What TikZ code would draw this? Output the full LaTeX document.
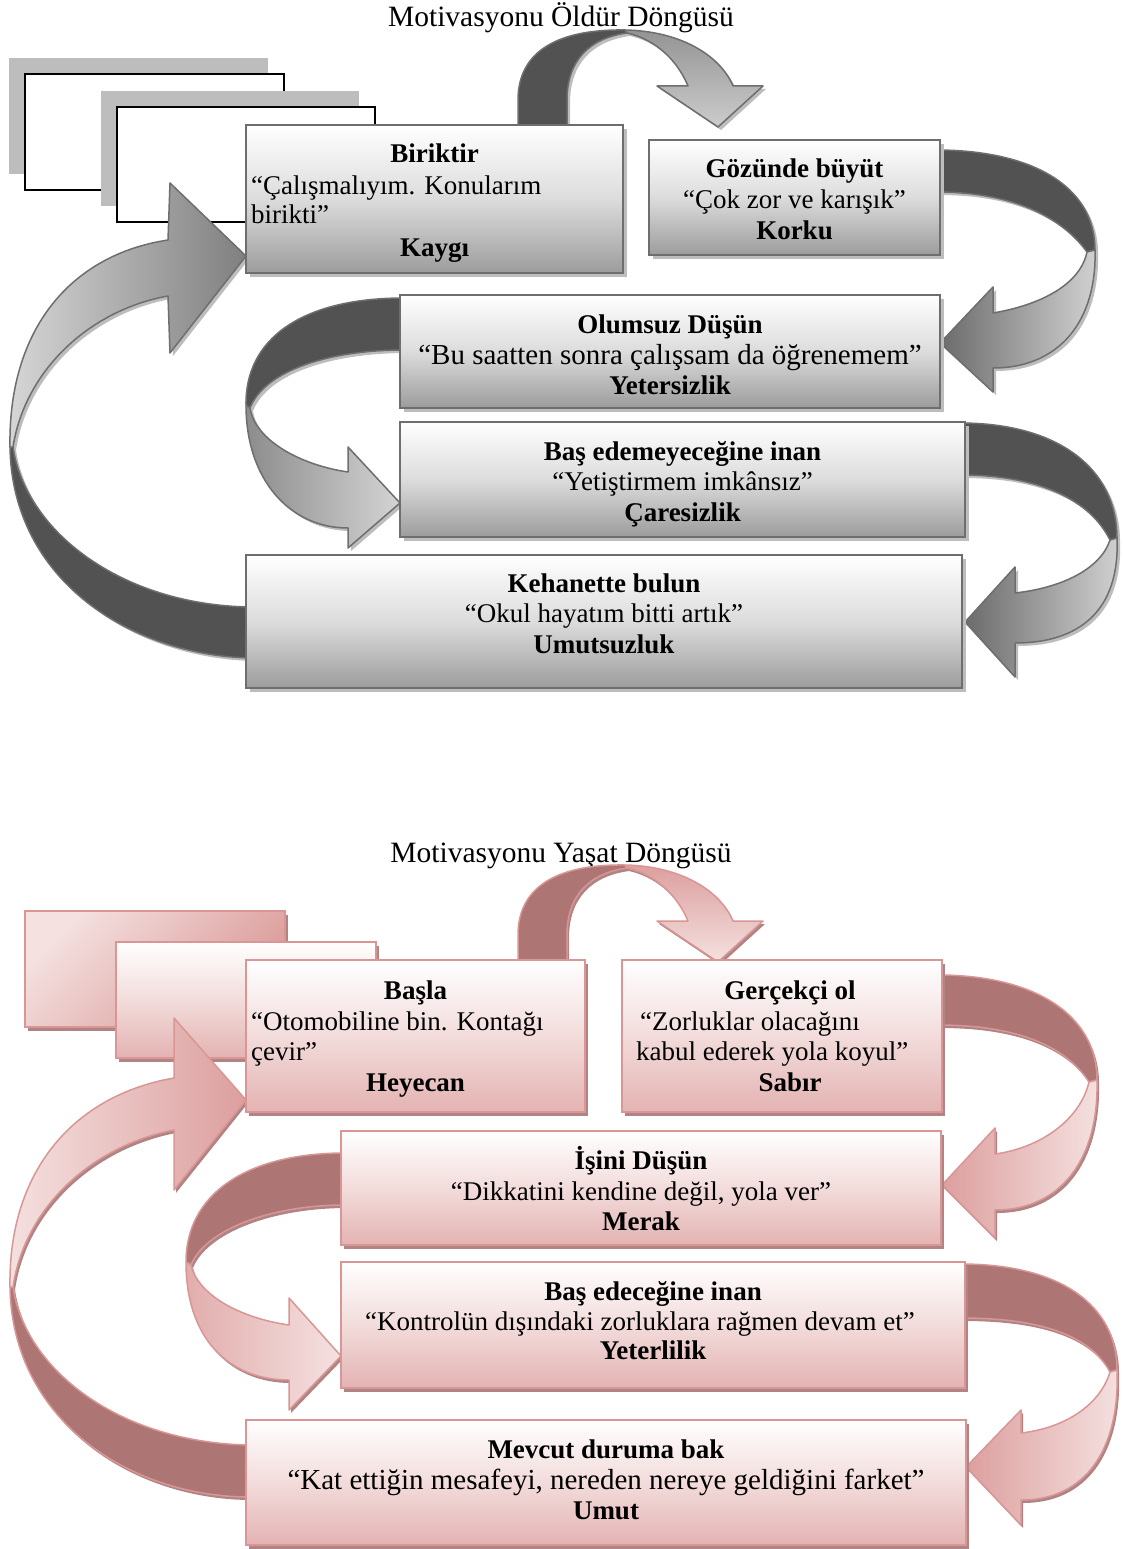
\documentclass[tikz,border=0pt]{standalone}
\usepackage{fontspec}
\setmainfont{Liberation Serif}
\usetikzlibrary{shadows}
\definecolor{gedge}{HTML}{6E6E6E}
\definecolor{gdark}{HTML}{525252}
\definecolor{gsh}{HTML}{BDBDBD}
\definecolor{gbot}{HTML}{9C9C9C}
\definecolor{gmid}{HTML}{DCDCDC}
\definecolor{pedge}{HTML}{D99694}
\definecolor{pdark}{HTML}{AD7574}
\definecolor{psh}{HTML}{B08484}
\definecolor{pbot}{HTML}{E3B3B2}
\definecolor{pmid}{HTML}{F2DCDB}
\definecolor{plight}{HTML}{F4E1E0}
\definecolor{pmed}{HTML}{DC9F9E}
% ---- gray ribbons (top diagram)
\def\gAd{(10,447) .. controls (12,580) and (130,655) .. (250,658) -- (250,607) .. controls (120,605) and (25,530) .. (13,447) -- cycle}
\def\gAl{(10,447) .. controls (8,330) and (70,255) .. (168,240) -- (170,183) -- (246,256) -- (170,353) -- (168,296) .. controls (90,310) and (25,370) .. (13,447) -- cycle}
\def\gTd{(518,130) -- (518,100) .. controls (518,50) and (560,29) .. (625,30) -- (627,33) .. controls (590,38) and (567,60) .. (567,100) -- (567,130) -- cycle}
\def\gTl{(625,30) .. controls (680,31) and (720,55) .. (733,86) -- (763,86) -- (718,127) -- (657,86) -- (688,86) .. controls (675,55) and (650,38) .. (627,33) -- cycle}
\def\gRd{(936,150) .. controls (1030,150) and (1095,185) .. (1095,250) -- (1087,252) .. controls (1060,215) and (1010,192) .. (936,192) -- cycle}
\def\gRl{(1095,250) .. controls (1097,320) and (1060,368) .. (993,368) -- (993,392) -- (940,343) -- (993,287) -- (993,313) .. controls (1040,305) and (1080,285) .. (1087,252) -- cycle}
\def\gLd{(404,298) .. controls (300,298) and (245,340) .. (246,405) -- (250,408) .. controls (265,370) and (330,350) .. (404,350) -- cycle}
\def\gLl{(246,405) .. controls (246,480) and (290,528) .. (348,528) -- (348,548) -- (400,503) -- (348,447) -- (348,472) .. controls (300,465) and (255,440) .. (250,408) -- cycle}
\def\gSd{(960,423) .. controls (1060,423) and (1117,470) .. (1117,538) -- (1110,540) .. controls (1090,500) and (1040,475) .. (960,475) -- cycle}
\def\gSl{(1117,538) .. controls (1120,610) and (1080,643) .. (1015,643) -- (1015,677) -- (965,622) -- (1015,567) -- (1015,593) .. controls (1060,588) and (1100,570) .. (1110,540) -- cycle}
% ---- pink ribbons (bottom diagram)
\def\pRd{(938,975) .. controls (1035,975) and (1097,1015) .. (1097,1080) -- (1089,1082) .. controls (1065,1045) and (1015,1025) .. (938,1025) -- cycle}
\def\pRl{(1097,1080) .. controls (1099,1160) and (1060,1210) .. (995,1210) -- (995,1238) -- (942,1185) -- (995,1128) -- (995,1154) .. controls (1040,1148) and (1080,1120) .. (1089,1082) -- cycle}
\def\pLd{(345,1153) .. controls (245,1153) and (186,1195) .. (186,1262) -- (191,1265) .. controls (205,1230) and (270,1205) .. (345,1205) -- cycle}
\def\pLl{(186,1262) .. controls (186,1340) and (230,1380) .. (289,1380) -- (289,1410) -- (341,1356) -- (289,1298) -- (289,1325) .. controls (240,1318) and (198,1295) .. (191,1265) -- cycle}
\def\pSd{(961,1264) .. controls (1060,1264) and (1117,1305) .. (1117,1370) -- (1110,1372) .. controls (1090,1335) and (1040,1318) .. (961,1318) -- cycle}
\def\pSl{(1117,1370) .. controls (1120,1450) and (1085,1500) .. (1021,1500) -- (1021,1525) -- (966,1467) -- (1021,1410) -- (1021,1433) .. controls (1065,1428) and (1100,1405) .. (1110,1372) -- cycle}
\def\pAd{(10,1287) .. controls (12,1420) and (130,1497) .. (250,1497) -- (250,1445) .. controls (120,1443) and (25,1370) .. (13,1287) -- cycle}
\def\pAl{(10,1287) .. controls (8,1170) and (75,1095) .. (174,1078) -- (174,1018) -- (246,1100) -- (174,1190) -- (174,1130) .. controls (95,1145) and (25,1205) .. (13,1287) -- cycle}
\begin{document}
\begin{tikzpicture}[x=1pt,y=-1pt,
  every node/.style={font=\fontsize{27}{32}\selectfont, inner sep=0pt},
  txt/.style={anchor=base},
  lft/.style={anchor=base west},
  ttl/.style={anchor=base, font=\fontsize{29.5}{35}\selectfont},
  big/.style={anchor=base, font=\fontsize{29}{35}\selectfont},
  hd/.style={anchor=base, font=\fontsize{27}{32}\selectfont\bfseries},
  gbox/.style={draw=gedge, line width=1.6pt, top color=white, bottom color=gbot, middle color=gmid,
    drop shadow={shadow xshift=4pt, shadow yshift=-4pt, fill=gsh, opacity=1}},
  pbox/.style={draw=pedge, line width=1.8pt, top color=white, bottom color=pbot, middle color=pmid,
    drop shadow={shadow xshift=3pt, shadow yshift=-4pt, fill=psh, opacity=1}},
  gshd/.style={fill=gsh, shift={(3,3)}},
  pshd/.style={fill=psh, shift={(2,3)}},
  gdk/.style={fill=gdark, draw=gedge, line width=1.5pt, line join=round},
  gli/.style={draw=gedge, line width=1.5pt, line join=round},
  pdk/.style={fill=pdark, draw=pedge, line width=1.5pt, line join=round},
  pli/.style={draw=pedge, line width=1.5pt, line join=round},
  backw/.style={fill=white, draw=black, line width=1.3pt}
]
\useasboundingbox (0,0) rectangle (1123,1549);
\fill[white] (0,0) rectangle (1123,1549);

% ================= TOP DIAGRAM =================
\node[ttl] (title1) at (561,27) {Motivasyonu Öldür Döngüsü};
% stacked back rectangles
\fill[gsh] (9,58) rectangle (268,174);
\draw[backw] (25,74) rectangle (284,190);
\fill[gsh] (101,91) rectangle (359,206);
\draw[backw] (117,107) rectangle (375,222);
% ribbon shadows
\fill[gshd] \gAd; \fill[gshd] \gAl;
\fill[gshd] \gTd; \fill[gshd] \gTl;
\fill[gshd] \gRd; \fill[gshd] \gRl;
\fill[gshd] \gLd; \fill[gshd] \gLl;
\fill[gshd] \gSd; \fill[gshd] \gSl;
% ribbons
\path[gdk] \gAd;
\path[gli, left color=black!16, right color=black!50] \gAl;
\path[gdk] \gTd;
\path[gli, top color=black!42, bottom color=black!20] \gTl;
\path[gdk] \gRd;
\path[gli, left color=black!58, right color=black!18] \gRl;
\path[gdk] \gLd;
\path[gli, left color=black!45, right color=black!17] \gLl;
\path[gdk] \gSd;
\path[gli, left color=black!58, right color=black!18] \gSl;
% boxes
\node[gbox, minimum width=377, minimum height=148] (b1) at (434.5,199) {};
\node[gbox, minimum width=291, minimum height=115] (b2) at (794.5,197.5) {};
\node[gbox, minimum width=540, minimum height=113] (b3) at (670,351.5) {};
\node[gbox, minimum width=565, minimum height=115] (b4) at (682.5,479.5) {};
\node[gbox, minimum width=716, minimum height=133] (b5) at (604,621.5) {};
% texts
\node[hd] (b1h) at (434.5,163) {Biriktir};
\node[lft] (b1q) at (251,194) {“Çalışmalıyım. Konularım};
\node[lft] (b1r) at (251,223) {birikti”};
\node[hd] (b1f) at (434.5,256) {Kaygı};
\node[hd] (b2h) at (794.5,178) {Gözünde büyüt};
\node[txt] (b2q) at (794.5,208) {“Çok zor ve karışık”};
\node[hd] (b2f) at (794.5,239) {Korku};
\node[hd] (b3h) at (670,333) {Olumsuz Düşün};
\node[big] (b3q) at (670,364) {“Bu saatten sonra çalışsam da öğrenemem”};
\node[hd] (b3f) at (670,394) {Yetersizlik};
\node[hd] (b4h) at (682.5,460) {Baş edemeyeceğine inan};
\node[txt] (b4q) at (682.5,490) {“Yetiştirmem imkânsız”};
\node[hd] (b4f) at (682.5,521) {Çaresizlik};
\node[hd] (b5h) at (604,592) {Kehanette bulun};
\node[txt] (b5q) at (604,622) {“Okul hayatım bitti artık”};
\node[hd] (b5f) at (604,653) {Umutsuzluk};

% ================= BOTTOM DIAGRAM =================
\node[ttl] (title2) at (561,862) {Motivasyonu Yaşat Döngüsü};
% stacked back rectangles
\fill[psh] (28,915) rectangle (288,1031);
\path[draw=pedge, line width=1.8pt, top color=plight, bottom color=pedge, shading angle=45] (25,911) rectangle (285,1027);
\fill[psh] (119,946) rectangle (379,1062);
\path[draw=pedge, line width=1.8pt, top color=white, bottom color=pbot, middle color=pmid] (116,942) rectangle (376,1058);
% ribbon shadows
\fill[pshd] \pAd; \fill[pshd] \pAl;
\fill[pshd,shift={(0,835)}] \gTd; \fill[pshd,shift={(0,835)}] \gTl;
\fill[pshd] \pRd; \fill[pshd] \pRl;
\fill[pshd] \pLd; \fill[pshd] \pLl;
\fill[pshd] \pSd; \fill[pshd] \pSl;
% ribbons
\path[pdk] \pAd;
\path[pli, left color=plight, right color=pmed] \pAl;
\path[pdk,shift={(0,835)}] \gTd;
\path[pli, top color=pmed, bottom color=plight, shift={(0,835)}] \gTl;
\path[pdk] \pRd;
\path[pli, left color=pmed, right color=plight] \pRl;
\path[pdk] \pLd;
\path[pli, left color=pmed!85, right color=plight] \pLl;
\path[pdk] \pSd;
\path[pli, left color=pmed, right color=plight] \pSl;
% boxes
\node[pbox, minimum width=339, minimum height=152] (c1) at (415.5,1036) {};
\node[pbox, minimum width=320, minimum height=152] (c2) at (782,1036) {};
\node[pbox, minimum width=600, minimum height=114] (c3) at (641,1188) {};
\node[pbox, minimum width=624, minimum height=126] (c4) at (653,1325) {};
\node[pbox, minimum width=720, minimum height=125] (c5) at (606,1482.5) {};
% texts
\node[hd] (c1h) at (415.5,999) {Başla};
\node[lft] (c1q) at (251,1030) {“Otomobiline bin. Kontağı};
\node[lft] (c1r) at (251,1060) {çevir”};
\node[hd] (c1f) at (415.5,1091) {Heyecan};
\node[hd] (c2h) at (790,999) {Gerçekçi ol};
\node[lft] (c2q) at (640,1030) {“Zorluklar olacağını};
\node[lft] (c2r) at (636,1060) {kabul ederek yola koyul”};
\node[hd] (c2f) at (790,1091) {Sabır};
\node[hd] (c3h) at (641,1169) {İşini Düşün};
\node[txt] (c3q) at (641,1200) {“Dikkatini kendine değil, yola ver”};
\node[hd] (c3f) at (641,1230) {Merak};
\node[hd] (c4h) at (653,1300) {Baş edeceğine inan};
\node[txt] (c4q) at (640,1330) {“Kontrolün dışındaki zorluklara rağmen devam et”};
\node[hd] (c4f) at (653,1359) {Yeterlilik};
\node[hd] (c5h) at (606,1458) {Mevcut duruma bak};
\node[big] (c5q) at (606,1489) {“Kat ettiğin mesafeyi, nereden nereye geldiğini farket”};
\node[hd] (c5f) at (606,1519) {Umut};
\end{tikzpicture}
\end{document}
